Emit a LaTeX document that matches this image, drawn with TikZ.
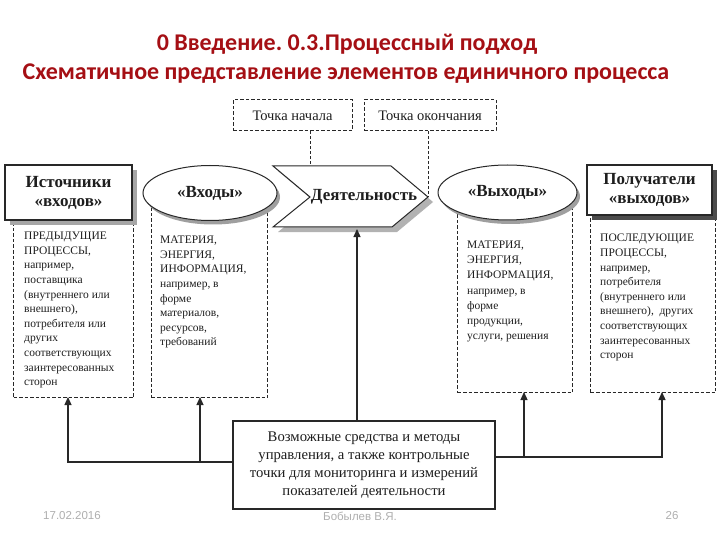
\documentclass[tikz,border=0pt]{standalone}
\usepackage{fontspec}
\setmainfont{Liberation Serif}
\newfontfamily\titlefont{Carlito}
\newfontfamily\footfont{Liberation Sans}
\usetikzlibrary{shapes.geometric,arrows.meta,shadows}
\definecolor{titlered}{RGB}{165,15,20}
\definecolor{textc}{RGB}{30,30,30}
\definecolor{linec}{RGB}{40,40,40}
\definecolor{footc}{RGB}{175,175,175}
\frenchspacing
\begin{document}
\frenchspacing
\begin{tikzpicture}[x=1pt,y=-1pt,
  titlestyle/.style={font=\titlefont\bfseries\fontsize{24}{28}\selectfont, text=titlered, inner sep=0},
  dbox/.style={draw=linec, line width=1pt, dash pattern=on 3.5pt off 2pt, inner sep=0, fill=white},
  dboxtext/.style={font=\fontsize{14.5}{17}\selectfont, text=textc},
  smalltext/.style={font=\fontsize{11.5}{14.6}\selectfont, align=left, inner sep=0, text=textc, anchor=north west},
  solidbox/.style={draw=linec, line width=1.2pt, fill=white, inner sep=0, text=textc},
  headtext/.style={font=\bfseries\fontsize{17}{19}\selectfont, align=center},
  ellnode/.style={ellipse, draw=linec, line width=1pt, fill=white, inner sep=0, text=textc,
     font=\bfseries\fontsize{17}{19}\selectfont,
     drop shadow={shadow xshift=3pt, shadow yshift=-4pt, fill=gray!75, opacity=1}},
  arrowline/.style={draw=linec, line width=1.2pt, -{Triangle[length=8pt,width=7pt]}},
  thindash/.style={draw=linec, line width=0.8pt, dash pattern=on 3pt off 2pt},
  foottext/.style={font=\footfont\fontsize{11.5}{13}\selectfont, text=footc, inner sep=0}
]
\useasboundingbox (0,0) rectangle (720,540);
\fill[white] (0,0) rectangle (720,540);

% Title
\node[titlestyle] (t1) at (347,44) {0 Введение. 0.3.Процессный подход};
\node[titlestyle] (t2) at (346,74) {Схематичное представление элементов единичного процесса};

% Top dashed boxes
\node[dbox, dboxtext, minimum width=119, minimum height=31] (tstart) at (292.5,115.5) {Точка начала};
\node[dbox, dboxtext, minimum width=132, minimum height=31] (tend) at (430,115.5) {Точка окончания};

% Dashed content boxes
\node[dbox, minimum width=120, minimum height=182, anchor=north west] (srcd) at (13,215) {};
\node[dbox, minimum width=116, minimum height=199, anchor=north west] (ind) at (151,198) {};
\node[dbox, minimum width=115, minimum height=194, anchor=north west] (outd) at (457,198) {};
\node[dbox, minimum width=125, minimum height=182, anchor=north west] (rcvd) at (590,210) {};

\node[smalltext] (srct) at (24,232) {ПРЕДЫДУЩИЕ\\ ПРОЦЕССЫ,\\ например,\\ поставщика\\ (внутреннего или\\ внешнего),\\ потребителя или\\ других\\ соответствующих\\ заинтересованных\\ сторон};
\node[smalltext] (int) at (160,236) {МАТЕРИЯ,\\ ЭНЕРГИЯ,\\ ИНФОРМАЦИЯ,\\ например, в\\ форме\\ материалов,\\ ресурсов,\\ требований};
\node[smalltext, font=\fontsize{11.5}{15.1}\selectfont] (outt) at (467,241) {МАТЕРИЯ,\\ ЭНЕРГИЯ,\\ ИНФОРМАЦИЯ,\\ например, в\\ форме\\ продукции,\\ услуги, решения};
\node[smalltext] (rcvt) at (600,234) {ПОСЛЕДУЮЩИЕ\\ ПРОЦЕССЫ,\\ например,\\ потребителя\\ (внутреннего или\\ внешнего),~ других\\ соответствующих\\ заинтересованных\\ сторон};

% Dashed connectors from the start/end points
\coordinate (notch) at (310,197);
\coordinate (tip) at (428,197);
\draw[thindash] (notch |- tstart.south) -- (notch);
\draw[thindash] (tip |- tend.south) -- (tip);

% Solid header boxes
\node[solidbox, headtext, minimum width=127, minimum height=55,
  drop shadow={shadow xshift=5pt, shadow yshift=-5pt, fill=gray!70, opacity=1}] (src) at (68.5,192.5) {Источники\\ «входов»};
\node[solidbox, headtext, minimum width=125, minimum height=50,
  drop shadow={shadow xshift=5pt, shadow yshift=-5pt, fill=black!70, opacity=1}] (rcv) at (649.5,190) {Получатели\\ «выходов»};

% Ellipses
\node[ellnode, minimum width=134, minimum height=55] (inell) at (210,193) {«Входы»};
\node[ellnode, minimum width=139, minimum height=55] (outell) at (507.5,192.5) {«Выходы»};

% Activity chevron
\draw[draw=linec, line width=1pt, fill=white,
  drop shadow={shadow xshift=5pt, shadow yshift=-5pt, fill=gray!60, opacity=1}]
  (273,166) -- (391,166) -- (tip) -- (392,227) -- (273,227) -- (notch) -- cycle;
\node[font=\bfseries\fontsize{17}{19}\selectfont, text=textc, inner sep=0] (act) at (364,197) {Деятельность};
\coordinate (actB) at (357,229);

% Control box
\node[solidbox, line width=1.1pt, minimum width=262, minimum height=88, align=center,
  font=\fontsize{14.7}{18}\selectfont] (ctrl) at (364,465) {Возможные средства и методы\\ управления, а также контрольные\\ точки для мониторинга и измерений\\ показателей деятельности};

% Connectors
\coordinate (a1) at (68,397);
\coordinate (a2) at (200,397);
\coordinate (a3) at (524,392);
\coordinate (a4) at (662,392);
\draw[arrowline] (ctrl.west |- 0,462) -| (a1);
\draw[arrowline] (a2 |- 0,462) -- (a2);
\draw[arrowline] (ctrl.east |- 0,457) -| (a4);
\draw[arrowline] (a3 |- 0,457) -- (a3);
\draw[arrowline] (ctrl.north -| actB) -- (actB);

% Footer
\node[foottext] (f1) at (72,516) {17.02.2016};
\node[foottext] (f2) at (360,516) {Бобылев В.Я.};
\node[foottext] (f3) at (672,516) {26};
\end{tikzpicture}
\end{document}
